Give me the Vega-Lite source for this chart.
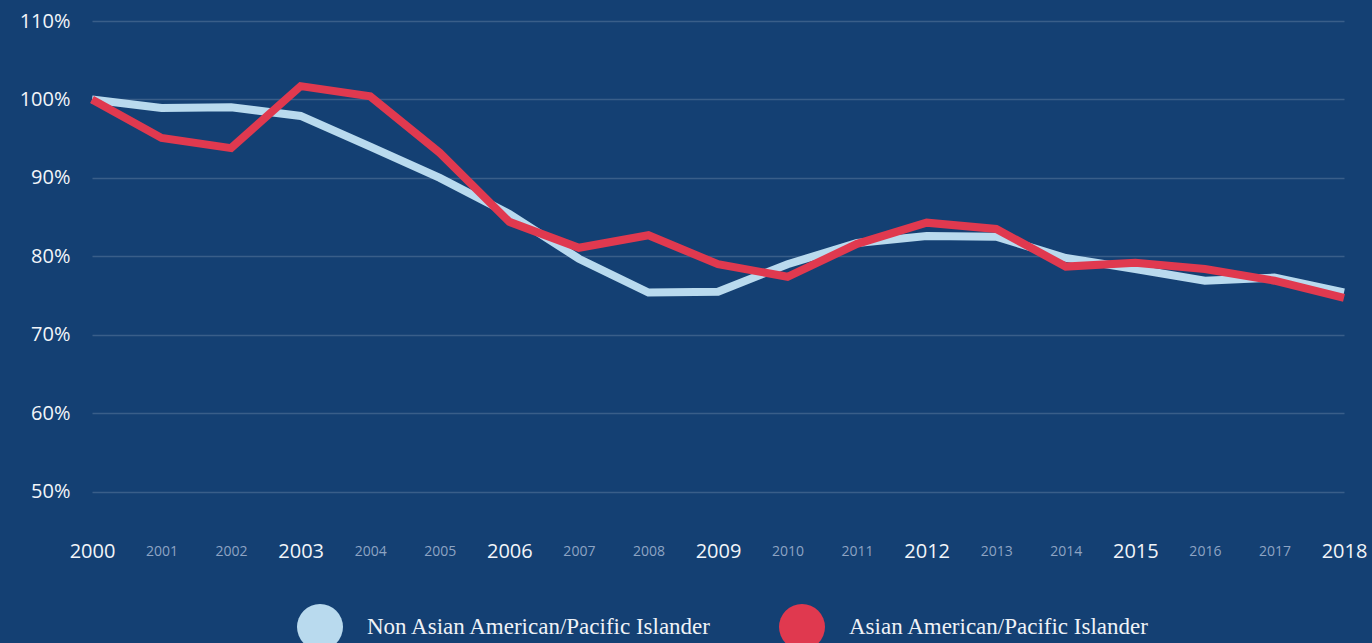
{
  "$schema": "https://vega.github.io/schema/vega-lite/v6.json",
  "autosize": "none",
  "width": 1252,
  "height": 510,
  "padding": {"left": 92, "top": 21, "right": 28, "bottom": 112},
  "background": "#144073",
  "config": {
    "view": {"stroke": null},
    "font": "Open Sans"
  },
  "data": {
    "values": [
      {"year": 2000, "group": "Non Asian American/Pacific Islander", "value": 100.0},
      {"year": 2001, "group": "Non Asian American/Pacific Islander", "value": 98.9},
      {"year": 2002, "group": "Non Asian American/Pacific Islander", "value": 99.0},
      {"year": 2003, "group": "Non Asian American/Pacific Islander", "value": 97.9},
      {"year": 2004, "group": "Non Asian American/Pacific Islander", "value": 94.0},
      {"year": 2005, "group": "Non Asian American/Pacific Islander", "value": 90.0},
      {"year": 2006, "group": "Non Asian American/Pacific Islander", "value": 85.4},
      {"year": 2007, "group": "Non Asian American/Pacific Islander", "value": 79.7},
      {"year": 2008, "group": "Non Asian American/Pacific Islander", "value": 75.4},
      {"year": 2009, "group": "Non Asian American/Pacific Islander", "value": 75.5},
      {"year": 2010, "group": "Non Asian American/Pacific Islander", "value": 79.0},
      {"year": 2011, "group": "Non Asian American/Pacific Islander", "value": 81.7},
      {"year": 2012, "group": "Non Asian American/Pacific Islander", "value": 82.6},
      {"year": 2013, "group": "Non Asian American/Pacific Islander", "value": 82.5},
      {"year": 2014, "group": "Non Asian American/Pacific Islander", "value": 79.8},
      {"year": 2015, "group": "Non Asian American/Pacific Islander", "value": 78.4},
      {"year": 2016, "group": "Non Asian American/Pacific Islander", "value": 76.9},
      {"year": 2017, "group": "Non Asian American/Pacific Islander", "value": 77.3},
      {"year": 2018, "group": "Non Asian American/Pacific Islander", "value": 75.4},
      {"year": 2000, "group": "Asian American/Pacific Islander", "value": 100.0},
      {"year": 2001, "group": "Asian American/Pacific Islander", "value": 95.1},
      {"year": 2002, "group": "Asian American/Pacific Islander", "value": 93.8},
      {"year": 2003, "group": "Asian American/Pacific Islander", "value": 101.7},
      {"year": 2004, "group": "Asian American/Pacific Islander", "value": 100.4},
      {"year": 2005, "group": "Asian American/Pacific Islander", "value": 93.2},
      {"year": 2006, "group": "Asian American/Pacific Islander", "value": 84.4},
      {"year": 2007, "group": "Asian American/Pacific Islander", "value": 81.1},
      {"year": 2008, "group": "Asian American/Pacific Islander", "value": 82.7},
      {"year": 2009, "group": "Asian American/Pacific Islander", "value": 79.0},
      {"year": 2010, "group": "Asian American/Pacific Islander", "value": 77.4},
      {"year": 2011, "group": "Asian American/Pacific Islander", "value": 81.6},
      {"year": 2012, "group": "Asian American/Pacific Islander", "value": 84.3},
      {"year": 2013, "group": "Asian American/Pacific Islander", "value": 83.5},
      {"year": 2014, "group": "Asian American/Pacific Islander", "value": 78.7},
      {"year": 2015, "group": "Asian American/Pacific Islander", "value": 79.2},
      {"year": 2016, "group": "Asian American/Pacific Islander", "value": 78.4},
      {"year": 2017, "group": "Asian American/Pacific Islander", "value": 76.9},
      {"year": 2018, "group": "Asian American/Pacific Islander", "value": 74.7}
    ]
  },
  "mark": {"type": "line", "strokeWidth": 8, "strokeJoin": "miter", "strokeCap": "butt"},
  "encoding": {
    "x": {
      "field": "year",
      "type": "quantitative",
      "scale": {"domain": [2000, 2018], "nice": false, "zero": false},
      "axis": {
        "title": null,
        "values": [2000,2001,2002,2003,2004,2005,2006,2007,2008,2009,2010,2011,2012,2013,2014,2015,2016,2017,2018],
        "format": "d",
        "grid": false,
        "domain": false,
        "ticks": false,
        "labelBaseline": "middle",
        "labelPadding": 20,
        "labelFont": "Open Sans",
        "labelFontSize": {"condition": {"test": "(datum.value - 2000) % 3 === 0", "value": 20}, "value": 14},
        "labelColor": {"condition": {"test": "(datum.value - 2000) % 3 === 0", "value": "#f2f5f9"}, "value": "#8ea4c3"},
        "labelOverlap": false,
        "labelFlush": false
      }
    },
    "y": {
      "field": "value",
      "type": "quantitative",
      "scale": {"domain": [45, 110], "nice": false, "zero": false},
      "axis": {
        "title": null,
        "values": [50, 60, 70, 80, 90, 100, 110],
        "labelExpr": "datum.value + '%'",
        "grid": true,
        "gridColor": "#ffffff",
        "gridOpacity": 0.16,
        "gridWidth": 1.3,
        "domain": false,
        "ticks": false,
        "labelPadding": 22,
        "labelFont": "Open Sans",
        "labelFontSize": 20,
        "labelColor": "#f2f5f9"
      }
    },
    "color": {
      "field": "group",
      "type": "nominal",
      "sort": ["Non Asian American/Pacific Islander", "Asian American/Pacific Islander"],
      "scale": {
        "domain": ["Non Asian American/Pacific Islander", "Asian American/Pacific Islander"],
        "range": ["#b9daee", "#e0394f"]
      },
      "legend": {
        "title": null,
        "orient": "none",
        "direction": "horizontal",
        "legendX": 205,
        "legendY": 583,
        "padding": 0,
        "symbolType": "circle",
        "symbolSize": 2116,
        "symbolStrokeWidth": 0,
        "labelFont": "Liberation Serif",
        "labelFontSize": 23,
        "labelColor": "#eef2f7",
        "labelOffset": 24,
        "columnPadding": 66,
        "labelLimit": 500,
        "encode": {
          "symbols": {
            "update": {
              "fill": {"scale": "color", "field": "value"},
              "strokeWidth": {"value": 0}
            }
          }
        }
      }
    }
  }
}
